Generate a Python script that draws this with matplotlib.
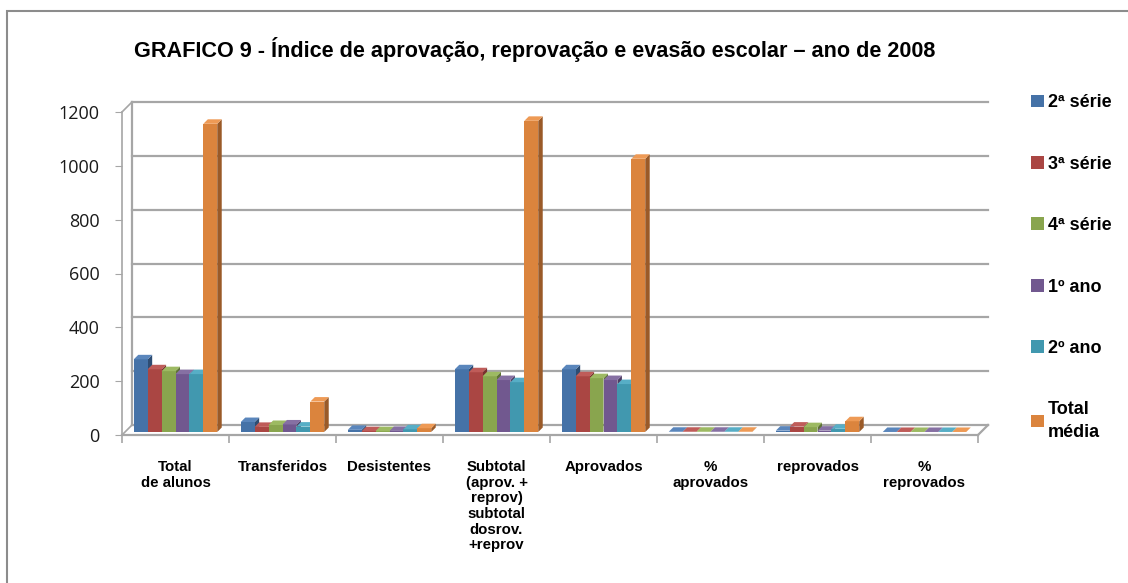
import matplotlib
matplotlib.use("Agg")
import matplotlib.pyplot as plt
import matplotlib.transforms as mtransforms
from matplotlib.patches import Rectangle, Polygon
import numpy as np

categories = ["Total\nde alunos", "Transferidos", "Desistentes",
              "Subtotal\n(aprov. +\nreprov)\nsubtotal\ndosrov.\n+reprov",
              "Aprovados", "%\naprovados", "reprovados", "%\nreprovados"]
series_names = ["2ª série", "3ª série", "4ª série", "1º ano", "2º ano", "Total\nmédia"]
serie2 = [270, 37, 8, 233, 233, 0.9, 5, 0.1]
serie3 = [233, 19, 3, 222, 207, 0.9, 20, 0.1]
serie4 = [226, 26, 3, 207, 200, 0.9, 18, 0.1]
ano1 = [215, 28, 4, 193, 193, 0.9, 5, 0.1]
ano2 = [215, 20, 10, 185, 178, 0.9, 12, 0.1]
total = [1145, 113, 14, 1156, 1015, 0.9, 40, 0.1]
series_values = [serie2, serie3, serie4, ano1, ano2, total]
yticks = [0, 200, 400, 600, 800, 1000, 1200]

colors = ["#4572A7", "#AA4643", "#89A54E", "#71588F", "#4198AF", "#DB843D"]
tops = ["#5A86BC", "#BF5C59", "#9DBA62", "#8670A3", "#57AEC6", "#EE9A55"]
sides = ["#2E4D73", "#7A302E", "#5F7436", "#4D3C62", "#2C6878", "#9A5A28"]

W, H = 1128, 583
fig = plt.figure(figsize=(W / 100, H / 100), dpi=100)
ax = fig.add_axes([122 / W, 1 - 435 / H, (978 - 122) / W, (435 - 112) / H])
ax.set_xlim(0, len(categories))
ax.set_ylim(0, 1200)
for s in ax.spines.values():
    s.set_visible(False)

# back wall offset
off = mtransforms.ScaledTranslation(10 / 100, 10 / 100, fig.dpi_scale_trans)
grid_c = "#A6A6A6"
for v in yticks:
    ax.plot([0, len(categories)], [v, v], color=grid_c, lw=1.6,
            transform=ax.transData + off, clip_on=False, zorder=0)
ax.plot([0, 0], [0, 1200], color=grid_c, lw=1.6, transform=ax.transData + off,
        clip_on=False, zorder=0)
# front edges
ax.plot([0, 0], [0, 1200], color=grid_c, lw=1.2, clip_on=False, zorder=1)
ax.plot([0, len(categories)], [0, 0], color=grid_c, lw=1.6, clip_on=False, zorder=1)
for v in [0, 1200]:
    p0 = ax.transData.transform((0, v))
    fig.add_artist(plt.Line2D([p0[0] / W, (p0[0] + 10) / W], [p0[1] / H, (p0[1] + 10) / H],
                              color=grid_c, lw=1.2))
p0 = ax.transData.transform((len(categories), 0))
fig.add_artist(plt.Line2D([p0[0] / W, (p0[0] + 10) / W], [p0[1] / H, (p0[1] + 10) / H],
                          color=grid_c, lw=1.6))

x = np.arange(len(categories)) + 0.5
bw = 0.13
n = len(series_values)
d = 4.5  # depth in pixels
base_shift = mtransforms.ScaledTranslation(0, 3 / 100, fig.dpi_scale_trans)
ident = mtransforms.IdentityTransform()
for i, vals in enumerate(series_values):
    xs = x + (i - (n - 1) / 2) * bw
    ax.bar(xs, vals, width=bw, color=colors[i], zorder=3 + i * 3,
           label=series_names[i], clip_on=False, transform=ax.transData + base_shift)
    for xc, v in zip(xs, vals):
        (x0, y0) = ax.transData.transform((xc - bw / 2, 0))
        (x1, y1) = ax.transData.transform((xc + bw / 2, v))
        y0 += 3
        y1 += 3
        top = Polygon([(x0, y1), (x1, y1), (x1 + d, y1 + d), (x0 + d, y1 + d)],
                      closed=True, facecolor=tops[i], edgecolor="none",
                      transform=ident, zorder=4 + i * 3, clip_on=False)
        side = Polygon([(x1, y0), (x1 + d, y0 + d), (x1 + d, y1 + d), (x1, y1)],
                       closed=True, facecolor=sides[i], edgecolor="none",
                       transform=ident, zorder=2 + i * 3, clip_on=False)
        ax.add_patch(side)
        ax.add_patch(top)

ax.set_xlim(0, len(categories))
ax.set_ylim(0, 1200)
ax.set_yticks(yticks)
ax.set_yticklabels([str(v) for v in yticks], fontsize=13, color="#1a1a1a",
                   family=["Open Sans", "DejaVu Sans"])
ax.tick_params(axis="y", length=5, color=grid_c, pad=11)
ax.set_xticks(x)
ax.set_xticklabels(categories, fontsize=10.8, fontweight="bold",
                   family=["Liberation Sans Narrow", "Liberation Sans"],
                   linespacing=1.15, va="top")
ax.tick_params(axis="x", length=0, pad=18)
ax.set_xticks(np.arange(len(categories) + 1), minor=True)
ax.tick_params(axis="x", which="minor", length=6, color=grid_c, width=1.2)

fig.text(535 / W, 1 - 50 / H,
         "GRAFICO 9 - Índice de aprovação, reprovação e evasão escolar – ano de 2008",
         ha="center", va="center", fontsize=15.6, fontweight="bold",
         family=["Liberation Sans", "DejaVu Sans"])

handles, labels = ax.get_legend_handles_labels()
leg = fig.legend(handles, labels, loc="upper left", bbox_to_anchor=(1015 / W, 1 - 78 / H),
                 frameon=False, handlelength=0.7, handleheight=0.7, handletextpad=0.2,
                 labelspacing=2.46, prop={"family": "Liberation Sans", "weight": "bold", "size": 13})
for t in leg.get_texts():
    t.set_linespacing(1.4)

fig.add_artist(Rectangle((7 / W, -0.1), 1.2, 1 - 11 / H + 0.1, transform=fig.transFigure,
                         fill=False, edgecolor="#8C8C8C", lw=1.5))

fig.savefig("out.png", dpi=100)
